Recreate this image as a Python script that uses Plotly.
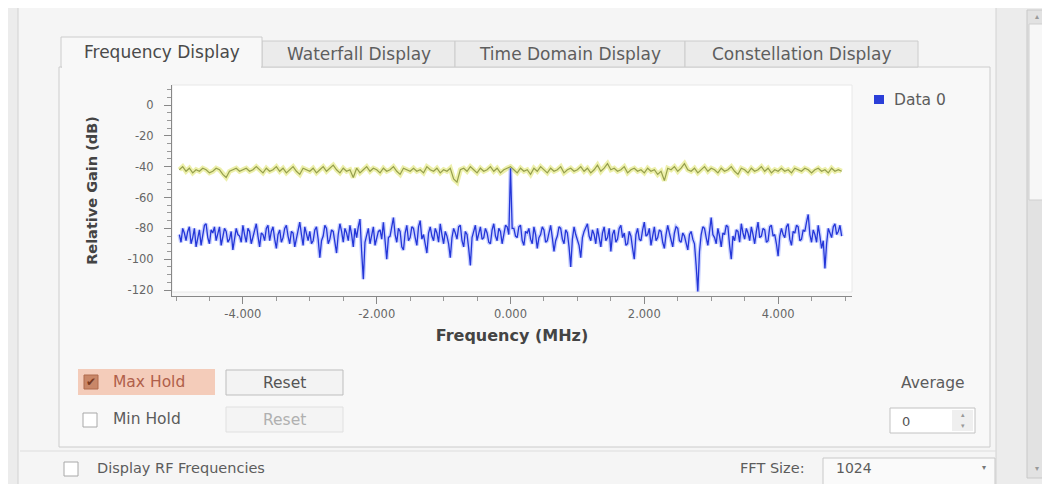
import plotly.graph_objects as go

# ---------------- data ----------------
data0_start_mhz = -4.95
data0_step_mhz = 0.025
hold_start_mhz = -4.95
hold_step_mhz = 0.05

data0_db = [
    -84, -89, -80, -83, -88, -82, -79, -90, -86, -80, -92, -85, -81, -91, -85, -78, -77, -86, -90, -81,
    -83, -79, -88, -84, -79, -91, -86, -80, -82, -89, -87, -82, -94, -86, -80, -84, -85, -89, -78, -84,
    -89, -80, -82, -90, -86, -81, -77, -85, -92, -83, -84, -88, -80, -78, -88, -82, -79, -87, -93, -84,
    -81, -89, -86, -80, -78, -85, -90, -82, -83, -92, -87, -80, -76, -84, -91, -79, -84, -88, -82, -90,
    -88, -81, -79, -87, -99, -88, -85, -78, -80, -90, -87, -81, -82, -88, -96, -84, -77, -82, -89, -80,
    -83, -88, -78, -84, -92, -80, -86, -79, -74, -95, -113, -89, -84, -80, -90, -85, -79, -91, -87, -82,
    -81, -87, -76, -90, -100, -86, -85, -79, -73, -84, -89, -80, -82, -92, -94, -83, -78, -88, -86, -79,
    -80, -86, -91, -79, -75, -87, -84, -90, -96, -83, -79, -85, -88, -80, -83, -89, -77, -84, -90, -82,
    -85, -90, -99, -86, -80, -83, -87, -79, -78, -88, -92, -82, -84, -93, -104, -86, -81, -78, -88, -83,
    -79, -87, -86, -80, -83, -89, -90, -81, -77, -85, -88, -80, -82, -90, -85, -78, -79, -84, -41, -80,
    -80, -85, -86, -79, -78, -88, -91, -82, -83, -80, -87, -90, -79, -84, -93, -86, -84, -79, -81, -89,
    -88, -82, -78, -86, -95, -88, -85, -79, -80, -87, -90, -81, -83, -92, -105, -87, -79, -84, -87, -91,
    -99, -86, -82, -79, -77, -85, -88, -81, -84, -90, -80, -86, -92, -83, -79, -88, -86, -80, -95, -84,
    -81, -89, -87, -80, -78, -86, -83, -91, -90, -82, -85, -93, -100, -84, -80, -87, -88, -81, -76, -85,
    -84, -80, -91, -85, -79, -88, -86, -81, -82, -89, -93, -84, -78, -83, -87, -92, -83, -79, -80, -88,
    -89, -83, -85, -90, -94, -84, -82, -87, -90, -104, -121, -95, -84, -79, -80, -86, -91, -82, -73, -84,
    -86, -90, -80, -85, -92, -83, -84, -78, -79, -91, -100, -85, -88, -81, -82, -89, -77, -83, -87, -80,
    -83, -88, -79, -84, -90, -82, -76, -86, -85, -80, -81, -89, -88, -79, -78, -85, -84, -90, -98, -85,
    -80, -84, -86, -79, -77, -87, -91, -82, -83, -78, -79, -88, -87, -81, -82, -76, -71, -84, -89, -81,
    -84, -89, -78, -85, -93, -88, -106, -90, -80, -83, -86, -79, -77, -84, -82, -78, -85,
]

max_hold_db = [
    -42, -40, -43, -41, -44, -42, -43, -41, -42, -44,
    -43, -41, -42, -45, -47, -43, -42, -41, -43, -42,
    -41, -43, -42, -40, -42, -44, -41, -43, -42, -40,
    -43, -41, -44, -42, -40, -43, -45, -41, -42, -43,
    -41, -44, -42, -40, -43, -41, -39, -42, -44, -41,
    -43, -42, -47, -41, -44, -42, -40, -43, -41, -42,
    -44, -41, -43, -42, -40, -43, -45, -41, -42, -43,
    -41, -43, -42, -44, -40, -42, -43, -41, -44, -42,
    -43, -41, -48, -50, -42, -41, -43, -40, -42, -44,
    -41, -43, -42, -40, -43, -41, -44, -42, -41, -40,
    -42, -44, -41, -43, -42, -45, -41, -43, -40, -42,
    -44, -41, -43, -42, -40, -44, -42, -41, -43, -42,
    -40, -43, -41, -44, -42, -39, -43, -41, -38, -42,
    -41, -43, -42, -40, -44, -42, -41, -43, -42, -44,
    -41, -43, -42, -45, -43, -49, -41, -42, -40, -43,
    -41, -38, -42, -43, -41, -44, -42, -40, -43, -41,
    -42, -44, -41, -43, -42, -40, -43, -45, -41, -42,
    -44, -41, -43, -42, -40, -43, -41, -44, -42, -43,
    -41, -43, -42, -44, -41, -42, -43, -41, -42, -44,
    -42, -41, -43, -42, -44, -41, -43, -42, -43,
]

data0_freq_mhz = [round(data0_start_mhz + data0_step_mhz * i, 4) for i in range(len(data0_db))]
hold_freq_mhz = [round(hold_start_mhz + hold_step_mhz * i, 4) for i in range(len(max_hold_db))]

x_tick_vals = [-4, -2, 0, 2, 4]
x_tick_text = ["-4.000", "-2.000", "0.000", "2.000", "4.000"]
y_tick_vals = [0, -20, -40, -60, -80, -100, -120]
y_tick_text = ["0", "-20", "-40", "-60", "-80", "-100", "-120"]

tab_labels = ["Frequency Display", "Waterfall Display", "Time Domain Display", "Constellation Display"]
legend_label = "Data 0"

# ---------------- layout geometry (screen pixels) ----------------
SCREEN_W, SCREEN_H = 1050, 484
OFF = 8                      # default page margin of the html body
W, H = SCREEN_W - OFF, SCREEN_H - OFF
L, R, T, B = 172, 852, 85, 296
FONT = "DejaVu Sans"


def fx(p):
    return (p - L) / (R - L)


def fy(p):
    return (B - p) / (B - T)


shapes = []
annotations = []


def rect(x0, y0, x1, y1, fill, line=None, width=1, layer="below"):
    shapes.append(dict(type="rect", xref="paper", yref="paper",
                       x0=fx(x0), x1=fx(x1), y0=fy(y1), y1=fy(y0),
                       fillcolor=fill, layer=layer,
                       line=dict(color=line or "rgba(0,0,0,0)", width=width if line else 0)))


def hline(x0, x1, y, color, width=1):
    shapes.append(dict(type="line", xref="paper", yref="paper",
                       x0=fx(x0), x1=fx(x1), y0=fy(y), y1=fy(y),
                       line=dict(color=color, width=width), layer="below"))


def text(x, y, s, size=15, color="#5c5c5c", anchor="left", bold=False):
    annotations.append(dict(xref="paper", yref="paper", x=fx(x), y=fy(y),
                            text=f"<b>{s}</b>" if bold else s, showarrow=False,
                            xanchor=anchor, yanchor="middle",
                            font=dict(family=FONT, size=size, color=color)))


# outer frame
rect(18, 6, 996, 500, "#f5f5f5", "#d2d2d2")
# scrollbar
rect(1027, 10, 1046, 478, "#e2e2e2", "#c8c8c8")
rect(1029, 24, 1044, 200, "#f7f7f7", "#cfcfcf")
text(1036.5, 16, "▴", size=8, color="#999999", anchor="center")
text(1036.5, 468, "▾", size=8, color="#999999", anchor="center")

# tab pane + tabs
rect(59, 67, 990, 447, "#f8f8f8", "#cccccc")
tab_edges = [61, 262, 455, 685, 918]
for i in range(1, 4):
    rect(tab_edges[i], 41, tab_edges[i + 1], 67, "#ebebeb", "#cccccc")
rect(tab_edges[0], 37, tab_edges[1], 67, "#f8f8f8", "#cccccc")
rect(tab_edges[0] + 1, 65, tab_edges[1] - 1, 69, "#f8f8f8")
for i, lab in enumerate(tab_labels):
    cx = (tab_edges[i] + tab_edges[i + 1]) / 2
    text(cx, 52 if i == 0 else 54, lab, size=17,
         color="#4a4a4a" if i == 0 else "#5e5e5e", anchor="center")

# plot canvas
rect(L, T, R, B - 4, "#ffffff", "#e8e8e8")

# legend
rect(874, 95, 884, 104, "#2b3fd8")
text(892, 100, legend_label, size=15.5, color="#5c5c5c")

# Max Hold / Min Hold controls
rect(78, 369, 215, 395, "rgba(243,190,165,0.75)")
rect(84, 375, 98, 389, "#c98768", "#b06a4c")
text(91, 382, "✔", size=12, color="#7a3a22", anchor="center")
text(111, 382, "Max Hold", size=15.5, color="#b0604a")
rect(226, 370, 343, 395, "#f3f3f3", "#bdbdbd")
text(284.5, 383, "Reset", size=15.5, color="#555555", anchor="center")

rect(83, 413, 97, 427, "#ffffff", "#a8a8a8")
text(111, 419, "Min Hold", size=15.5, color="#5c5c5c")
rect(226, 407, 343, 432, "#f4f4f4", "#e0e0e0")
text(284.5, 420, "Reset", size=15.5, color="#b0b0b0", anchor="center")

# Average spin box
text(933, 383, "Average", size=15.5, color="#5c5c5c", anchor="center")
rect(890, 408, 975, 433, "#ffffff", "#c2c2c2")
rect(952, 410, 973, 431, "#efefef")
text(900, 421, "0", size=13, color="#555555")
text(962.5, 415, "▴", size=7, color="#999999", anchor="center")
text(962.5, 426, "▾", size=7, color="#999999", anchor="center")

# bottom row
hline(20, 996, 451, "#dddddd")
rect(64, 462, 78, 476, "#ffffff", "#a8a8a8")
text(95, 468, "Display RF Frequencies", size=14.5, color="#5c5c5c")
text(738, 468, "FFT Size:", size=14.5, color="#5c5c5c")
rect(823, 458, 995, 492, "#fafafa", "#c8c8c8")
text(834, 468, "1024", size=14, color="#5c5c5c")
text(984, 467, "▾", size=8, color="#777777", anchor="center")

# ---------------- figure ----------------
fig = go.Figure()

# max hold trace (yellow-green with soft halo)
fig.add_trace(go.Scatter(x=hold_freq_mhz, y=max_hold_db, mode="lines",
                         line=dict(color="rgba(232,236,150,0.8)", width=5),
                         hoverinfo="skip", showlegend=False))
fig.add_trace(go.Scatter(x=hold_freq_mhz, y=max_hold_db, mode="lines",
                         line=dict(color="#959f4c", width=1.2),
                         name="Max Hold", showlegend=False))
# data 0 trace (blue with soft halo)
fig.add_trace(go.Scatter(x=data0_freq_mhz, y=data0_db, mode="lines",
                         line=dict(color="rgba(120,140,255,0.4)", width=4),
                         hoverinfo="skip", showlegend=False))
fig.add_trace(go.Scatter(x=data0_freq_mhz, y=data0_db, mode="lines",
                         line=dict(color="#2436d8", width=1.3),
                         name=legend_label, showlegend=False))

x_lo = (L - 510.5) / 66.9
x_hi = (R - 510.5) / 66.9
y_hi = (105 - T) / 1.542
y_lo = -(B - 105) / 1.542

fig.update_layout(
    width=W, height=H,
    margin=dict(l=L - OFF, r=SCREEN_W - R, t=T - OFF, b=SCREEN_H - B, pad=0),
    paper_bgcolor="#ececec",
    plot_bgcolor="rgba(0,0,0,0)",
    showlegend=False,
    shapes=shapes,
    annotations=annotations,
    font=dict(family=FONT, color="#555555"),
    xaxis=dict(
        range=[x_lo, x_hi], tickmode="array", tickvals=x_tick_vals, ticktext=x_tick_text,
        ticks="outside", ticklen=7, tickcolor="#888888", tickwidth=1,
        minor=dict(dtick=0.5, ticks="outside", ticklen=4, tickcolor="#999999", showgrid=False),
        showline=True, linecolor="#888888", linewidth=1, showgrid=False, zeroline=False,
        tickfont=dict(family=FONT, size=11.5, color="#666666"),
        title=dict(text="<b>Frequency (MHz)</b>", standoff=10,
                   font=dict(family=FONT, size=16, color="#444444")),
    ),
    yaxis=dict(
        range=[y_lo, y_hi], tickmode="array", tickvals=y_tick_vals, ticktext=y_tick_text,
        ticks="outside", ticklen=7, tickcolor="#888888", tickwidth=1,
        ticklabelstandoff=8,
        minor=dict(dtick=5, ticks="outside", ticklen=4, tickcolor="#999999", showgrid=False),
        showline=True, linecolor="#888888", linewidth=1, showgrid=False, zeroline=False,
        tickfont=dict(family=FONT, size=11.5, color="#666666"),
        title=dict(text="<b>Relative Gain (dB)</b>", standoff=26,
                   font=dict(family=FONT, size=14.5, color="#444444")),
    ),
)

fig.write_html("out.html")
